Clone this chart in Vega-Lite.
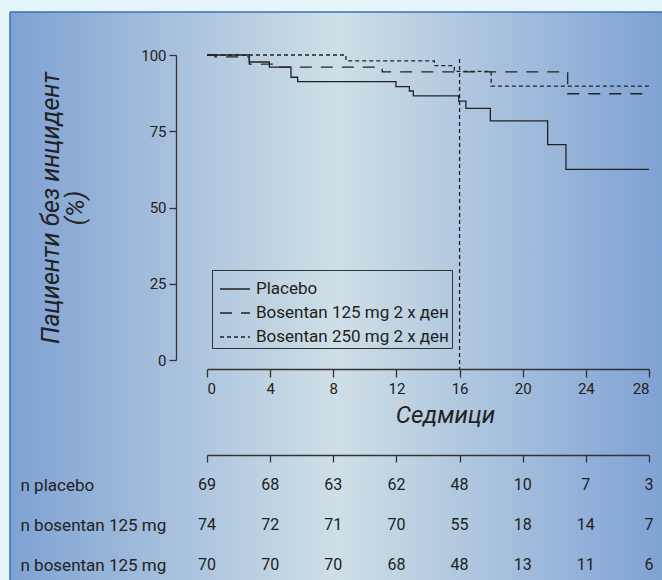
{
  "$schema": "https://vega.github.io/schema/vega-lite/v6.json",
  "background": "#e6f5fc",
  "padding": {"left": 9, "top": 11, "right": 0, "bottom": 0},
  "bounds": "flush",
  "spacing": 105,
  "config": {
    "view": {"stroke": null},
    "font": "Roboto",
    "axis": {"grid": false, "zindex": 1, "domainColor": "#333333", "tickColor": "#333333", "labelColor": "#222222", "titleColor": "#222222", "domainWidth": 1.3, "tickWidth": 1.3}
  },
  "vconcat": [
    {
      "width": 442,
      "height": 305,
      "encoding": {
        "x": {"type": "quantitative", "scale": {"domain": [0, 28], "nice": false, "zero": false},
          "axis": {"zindex": 1, "values": [0, 4, 8, 12, 16, 20, 24, 28], "offset": 9, "tickSize": 8, "labelFontSize": 15, "labelPadding": 4, "title": "Седмици", "titleFontSize": 24, "titleFontStyle": "italic", "titleFontWeight": "normal", "titlePadding": 7, "titleX": 238}},
        "y": {"type": "quantitative", "scale": {"domain": [0, 100], "nice": false, "zero": false},
          "axis": {"zindex": 1, "values": [0, 25, 50, 75, 100], "offset": 31, "tickSize": 7, "labelFontSize": 15, "labelPadding": 3, "title": ["Пациенти без инцидент", "(%)"], "titleFontSize": 25, "titleFontStyle": "italic", "titleFontWeight": "normal", "titleLineHeight": 25, "titlePadding": 52}}
      },
      "layer": [
        {
          "data": {"values": [{}]},
          "mark": {"type": "rect", "fill": {"gradient": "linear", "x1": 0, "x2": 1, "y1": 0, "y2": 0, "stops": [{"offset": 0, "color": "#7fa2d3"}, {"offset": 0.5, "color": "#cfdfe6"}, {"offset": 1, "color": "#7fa2d4"}]}},
          "encoding": {
            "x": {"datum": -12.48},
            "x2": {"datum": 28.887},
            "y": {"datum": 114.098},
            "y2": {"datum": -72.459}
          }
        },
        {
          "data": {"values": [{}]},
          "mark": {"type": "rule", "color": "#3b70b8", "strokeWidth": 1.5},
          "encoding": {
            "x": {"datum": -12.48},
            "x2": {"datum": 28.887},
            "y": {"datum": 114.098}
          }
        },
        {
          "data": {"values": [{}]},
          "mark": {"type": "rule", "color": "#3b70b8", "strokeWidth": 1.5},
          "encoding": {
            "x": {"datum": -12.48},
            "y": {"datum": 114.098},
            "y2": {"datum": -72.459}
          }
        },
        {
          "data": {"values": [{}]},
          "mark": {"type": "rule", "color": "#222222", "strokeWidth": 1.3, "strokeDash": [4, 3]},
          "encoding": {
            "x": {"datum": 16},
            "y": {"datum": 98.7},
            "y2": {"datum": -2.95}
          }
        },
        {
          "data": {"values": [
            {"series": "Placebo", "week": 0, "surv": 100},
            {"series": "Placebo", "week": 2.68, "surv": 97.7},
            {"series": "Placebo", "week": 3.95, "surv": 96.0},
            {"series": "Placebo", "week": 5.32, "surv": 92.7},
            {"series": "Placebo", "week": 5.74, "surv": 91.3},
            {"series": "Placebo", "week": 11.97, "surv": 89.6},
            {"series": "Placebo", "week": 12.82, "surv": 88.2},
            {"series": "Placebo", "week": 13.07, "surv": 86.6},
            {"series": "Placebo", "week": 15.94, "surv": 84.9},
            {"series": "Placebo", "week": 16.4, "surv": 82.5},
            {"series": "Placebo", "week": 17.95, "surv": 78.4},
            {"series": "Placebo", "week": 21.58, "surv": 70.6},
            {"series": "Placebo", "week": 22.74, "surv": 62.5},
            {"series": "Placebo", "week": 28, "surv": 62.5},
            {"series": "Bosentan 125 mg 2 x ден", "week": 0, "surv": 100},
            {"series": "Bosentan 125 mg 2 x ден", "week": 0.5, "surv": 99.4},
            {"series": "Bosentan 125 mg 2 x ден", "week": 2.68, "surv": 97.0},
            {"series": "Bosentan 125 mg 2 x ден", "week": 4.47, "surv": 96.0},
            {"series": "Bosentan 125 mg 2 x ден", "week": 11.1, "surv": 94.5},
            {"series": "Bosentan 125 mg 2 x ден", "week": 22.85, "surv": 87.3},
            {"series": "Bosentan 125 mg 2 x ден", "week": 27.9, "surv": 87.3},
            {"series": "Bosentan 250 mg 2 x ден", "week": 0, "surv": 100},
            {"series": "Bosentan 250 mg 2 x ден", "week": 8.8, "surv": 98.1},
            {"series": "Bosentan 250 mg 2 x ден", "week": 14.4, "surv": 96.5},
            {"series": "Bosentan 250 mg 2 x ден", "week": 15.67, "surv": 94.6},
            {"series": "Bosentan 250 mg 2 x ден", "week": 18.0, "surv": 89.8},
            {"series": "Bosentan 250 mg 2 x ден", "week": 28.1, "surv": 89.8}
          ]},
          "mark": {"type": "line", "interpolate": "step-after", "color": "#222222", "strokeWidth": 1.3},
          "encoding": {
            "x": {"field": "week"},
            "y": {"field": "surv"},
            "strokeDash": {"field": "series", "type": "nominal",
              "scale": {"domain": ["Placebo", "Bosentan 125 mg 2 x ден", "Bosentan 250 mg 2 x ден"], "range": [[1, 0], [12, 9], [4, 3]]},
              "legend": {"title": null, "orient": "none", "legendX": 5, "legendY": 215, "symbolType": "stroke", "symbolSize": 900, "symbolOffset": 4, "symbolStrokeWidth": 1.3, "symbolStrokeColor": "#222222", "labelFontSize": 17, "labelColor": "#222222", "labelOffset": 5, "labelLimit": 400, "strokeColor": "#333333", "padding": 3, "rowPadding": -4.8}}
          }
        }
      ]
    },
    {
      "width": 442,
      "height": 120,
      "data": {"values": [
        {"row": 1, "label": "n placebo", "week": 0, "n": 69},
        {"row": 1, "label": "n placebo", "week": 4, "n": 68},
        {"row": 1, "label": "n placebo", "week": 8, "n": 63},
        {"row": 1, "label": "n placebo", "week": 12, "n": 62},
        {"row": 1, "label": "n placebo", "week": 16, "n": 48},
        {"row": 1, "label": "n placebo", "week": 20, "n": 10},
        {"row": 1, "label": "n placebo", "week": 24, "n": 7},
        {"row": 1, "label": "n placebo", "week": 28, "n": 3},
        {"row": 2, "label": "n bosentan 125 mg", "week": 0, "n": 74},
        {"row": 2, "label": "n bosentan 125 mg", "week": 4, "n": 72},
        {"row": 2, "label": "n bosentan 125 mg", "week": 8, "n": 71},
        {"row": 2, "label": "n bosentan 125 mg", "week": 12, "n": 70},
        {"row": 2, "label": "n bosentan 125 mg", "week": 16, "n": 55},
        {"row": 2, "label": "n bosentan 125 mg", "week": 20, "n": 18},
        {"row": 2, "label": "n bosentan 125 mg", "week": 24, "n": 14},
        {"row": 2, "label": "n bosentan 125 mg", "week": 28, "n": 7},
        {"row": 3, "label": "n bosentan 125 mg", "week": 0, "n": 70},
        {"row": 3, "label": "n bosentan 125 mg", "week": 4, "n": 70},
        {"row": 3, "label": "n bosentan 125 mg", "week": 8, "n": 70},
        {"row": 3, "label": "n bosentan 125 mg", "week": 12, "n": 68},
        {"row": 3, "label": "n bosentan 125 mg", "week": 16, "n": 48},
        {"row": 3, "label": "n bosentan 125 mg", "week": 20, "n": 13},
        {"row": 3, "label": "n bosentan 125 mg", "week": 24, "n": 11},
        {"row": 3, "label": "n bosentan 125 mg", "week": 28, "n": 6}
      ]},
      "mark": {"type": "text", "fontSize": 16, "color": "#222222", "baseline": "middle"},
      "encoding": {
        "x": {"field": "week", "type": "quantitative", "scale": {"domain": [0, 28], "nice": false, "zero": false},
          "axis": {"orient": "top", "values": [0, 4, 8, 12, 16, 20, 24, 28], "labels": false, "title": null, "offset": 10, "tickSize": -7}},
        "y": {"field": "row", "type": "ordinal",
          "axis": {"title": null, "domain": false, "ticks": false, "tickSize": 0, "labelAlign": "left", "labelBaseline": "middle", "labelPadding": 187, "labelFontSize": 17, "labelColor": "#222222", "labelExpr": "datum.value == 1 ? 'n placebo' : 'n bosentan 125 mg'"}},
        "text": {"field": "n", "type": "quantitative"}
      }
    }
  ]
}
